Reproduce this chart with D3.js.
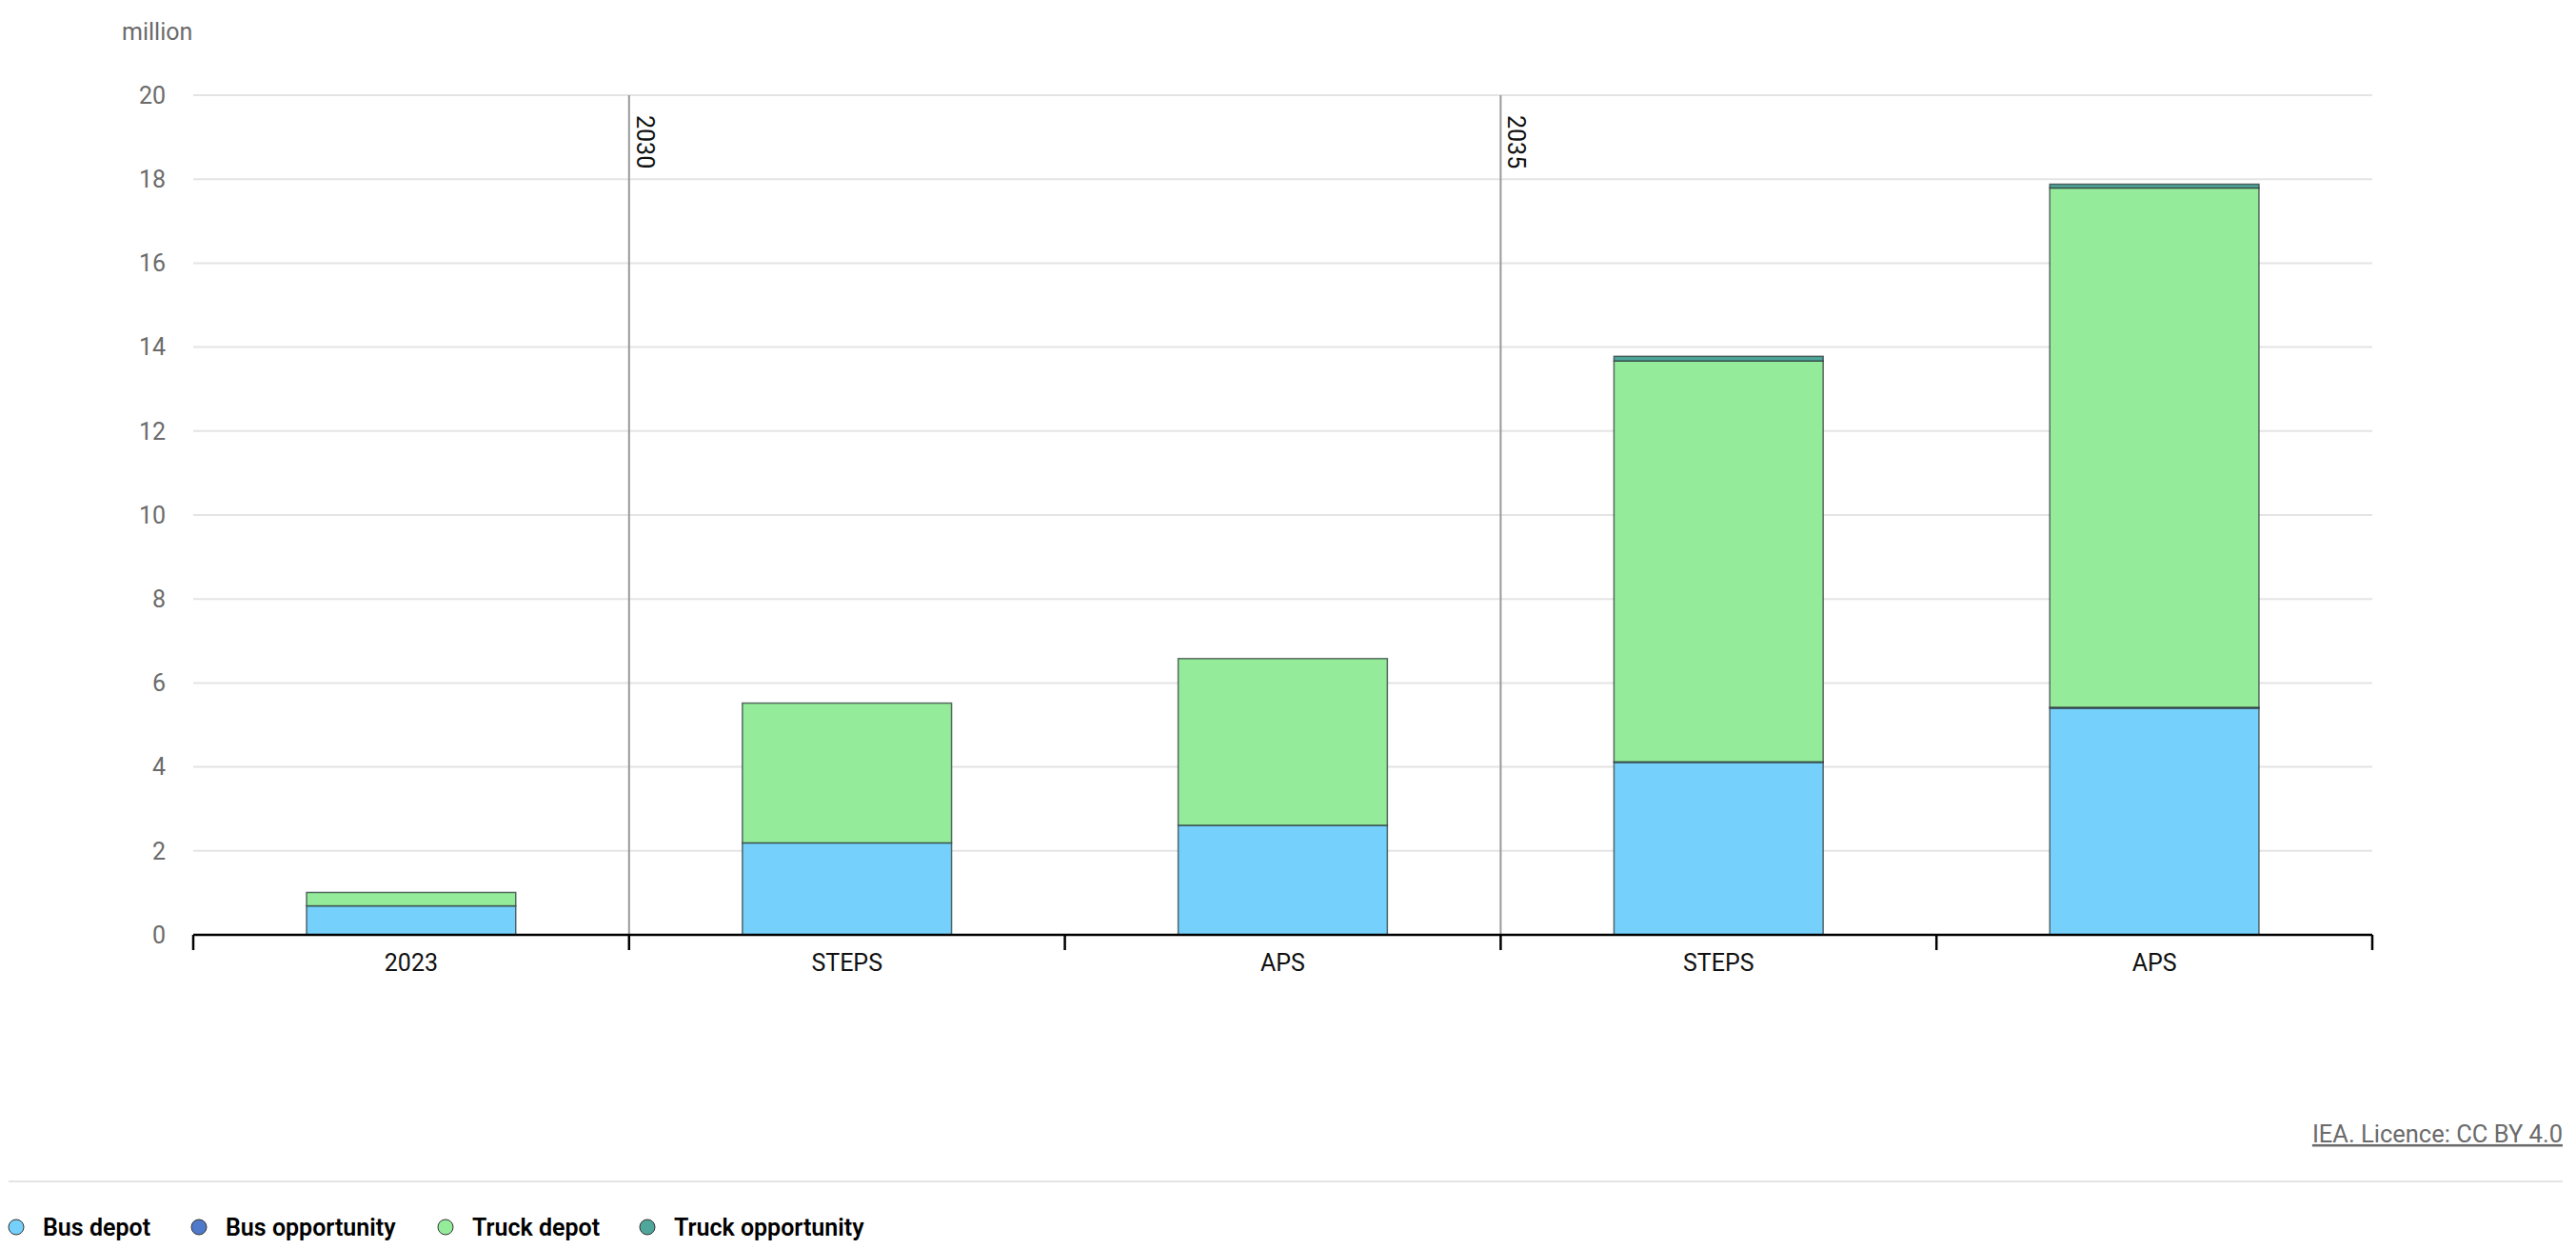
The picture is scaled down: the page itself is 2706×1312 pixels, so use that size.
<!DOCTYPE html>
<html><head><meta charset="utf-8">
<script src="https://cdn.jsdelivr.net/npm/d3@7"></script>
<style>
html,body{margin:0;padding:0;background:#fff;}
svg{display:block;font-family:Roboto,"Liberation Sans",sans-serif;}
</style></head>
<body>
<svg id="chart" width="2706" height="1312"></svg>
<script>
const categories = ["2023","STEPS","APS","STEPS","APS"];
const groupLabels = ["", "2030", "", "2035", ""];
const busDepot = [0.69, 2.19, 2.61, 4.11, 5.40];
const busOpportunity = [0.0, 0.0, 0.0, 0.01, 0.02];
const truckDepot = [0.32, 3.33, 3.97, 9.55, 12.37];
const truckOpportunity = [0.0, 0.0, 0.0, 0.11, 0.09];
const yTicks = [0,2,4,6,8,10,12,14,16,18,20];
const seriesNames = ["Bus depot","Bus opportunity","Truck depot","Truck opportunity"];
const seriesColors = ["#75d0fb","#4f7acb","#94ec9b","#4fa69b"];

const svg = d3.select("#chart");
const margin = {left:203, right:2492, top:100, bottom:982};

const idx = categories.map((d,i)=>i);
const x = d3.scaleBand().domain(idx).range([margin.left, margin.right]).paddingInner(0.52).paddingOuter(0.26);
const xb = d3.scaleBand().domain(idx).range([margin.left, margin.right]).padding(0);
const y = d3.scaleLinear().domain([0,20]).range([margin.bottom, margin.top]);

// gridlines
svg.append("g").selectAll("line").data(yTicks.filter(d=>d>0)).join("line")
  .attr("x1", margin.left).attr("x2", margin.right)
  .attr("y1", d=>y(d)).attr("y2", d=>y(d))
  .attr("stroke","#e4e4e4").attr("stroke-width",2);

// y labels
svg.append("g").selectAll("text").data(yTicks).join("text")
  .attr("x",174).attr("y",d=>y(d)).attr("dy","0.35em")
  .attr("text-anchor","end").attr("font-size",25).attr("fill","#6b6b6b")
  .text(d=>d);
svg.append("text").attr("x",128).attr("y",33).attr("dy","0.35em")
  .attr("font-size",25).attr("fill","#6b6b6b").text("million");

// group separator lines
groupLabels.forEach((g,i)=>{
  if(!g) return;
  const gx = xb(i);
  svg.append("line").attr("x1",gx).attr("x2",gx).attr("y1",y(20)).attr("y2",y(0))
    .attr("stroke","#9a9a9a").attr("stroke-width",2);
  svg.append("text").attr("transform",`translate(${gx+8},${121}) rotate(90)`)
    .attr("font-size",25).attr("fill","#111").text(g);
});

// stacked bars
const table = idx.map(i=>({i, "Bus depot":busDepot[i], "Bus opportunity":busOpportunity[i], "Truck depot":truckDepot[i], "Truck opportunity":truckOpportunity[i]}));
const stack = d3.stack().keys(seriesNames)(table);
svg.append("g").selectAll("g").data(stack).join("g")
  .attr("fill",(d,k)=>seriesColors[k])
  .selectAll("rect").data(d=>d.filter(p=>p[1]-p[0]>0)).join("rect")
  .attr("x",d=>x(d.data.i)).attr("width",x.bandwidth())
  .attr("y",d=>y(d[1])).attr("height",d=>y(d[0])-y(d[1]))
  .attr("stroke","#2f3b3b").attr("stroke-opacity",0.75).attr("stroke-width",1.5);

// x axis
svg.append("line").attr("x1",margin.left).attr("x2",margin.right)
  .attr("y1",y(0)).attr("y2",y(0)).attr("stroke","#000").attr("stroke-width",2.5);
const bounds = idx.map(i=>xb(i)).concat([margin.right]);
svg.append("g").selectAll("line").data(bounds).join("line")
  .attr("x1",d=>d).attr("x2",d=>d).attr("y1",y(0)).attr("y2",y(0)+16)
  .attr("stroke","#000").attr("stroke-width",2.5);
svg.append("g").selectAll("text").data(idx).join("text")
  .attr("x",i=>x(i)+x.bandwidth()/2).attr("y",1011).attr("dy","0.35em")
  .attr("text-anchor","middle").attr("font-size",25).attr("fill","#111")
  .text(i=>categories[i]);

// licence
svg.append("text").attr("x",2692).attr("y",1191).attr("dy","0.35em")
  .attr("text-anchor","end").attr("font-size",25.5).attr("fill","#6b6b6b")
  .attr("text-decoration","underline").text("IEA. Licence: CC BY 4.0");

// separator
svg.append("line").attr("x1",9).attr("x2",2692).attr("y1",1241).attr("y2",1241)
  .attr("stroke","#e4e4e4").attr("stroke-width",2);

// legend
const legX = [17, 209, 468, 680];
const lg = svg.append("g").selectAll("g").data(seriesNames).join("g")
  .attr("transform",(d,k)=>`translate(${legX[k]},1289)`);
lg.append("circle").attr("r",8).attr("fill",(d,k)=>seriesColors[k])
  .attr("stroke","#333").attr("stroke-width",1);
lg.append("text").attr("x",28).attr("dy","0.35em").attr("font-size",25)
  .attr("font-weight",600).attr("fill","#000").text(d=>d);
</script>
</body></html>
